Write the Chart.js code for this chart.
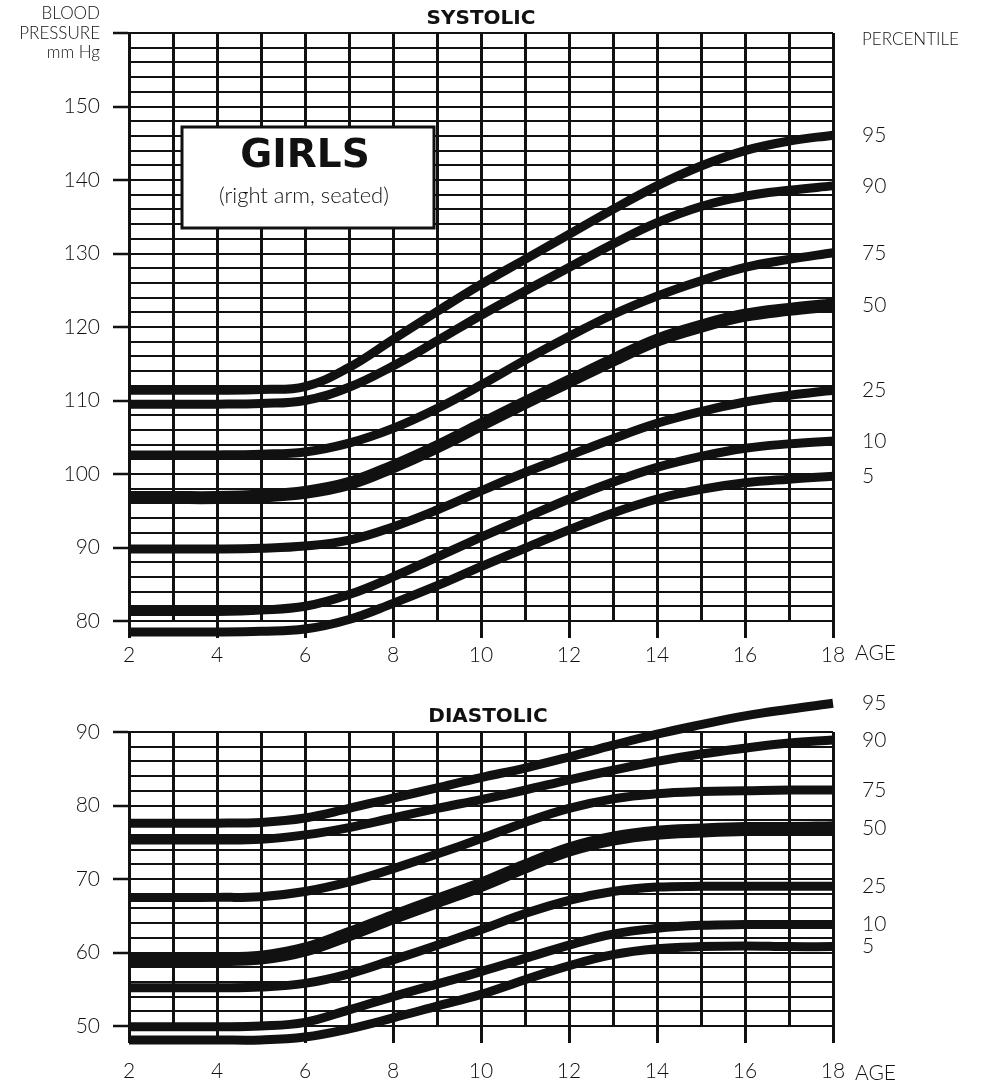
<!DOCTYPE html>
<html>
<head>
<meta charset="utf-8">
<script src="https://cdn.jsdelivr.net/npm/chart.js@4.4.1/dist/chart.umd.min.js"></script>
<style>
  body { margin: 0; background: #fff; }
  #wrap { position: relative; width: 988px; height: 1087px; }
  canvas { position: absolute; left: 0; }
  #sysCanvas { top: 0; }
  #diaCanvas { top: 680px; }
</style>
</head>
<body>
<div id="wrap">
  <canvas id="sysCanvas" width="988" height="680"></canvas>
  <canvas id="diaCanvas" width="988" height="407"></canvas>
</div>
<script>
const ages = [2, 3, 4, 5, 6, 7, 8, 9, 10, 11, 12, 13, 14, 15, 16, 17, 18];
const percentiles = ['95', '90', '75', '50', '25', '10', '5'];

// systolic, mm Hg
const sys95 = [111.4, 111.4, 111.4, 111.5, 111.9, 114.5, 118.3, 122.1, 125.8, 129.2, 132.6, 136.0, 139.2, 141.9, 144.0, 145.3, 146.1];
const sys90 = [109.5, 109.5, 109.5, 109.6, 110.0, 111.8, 114.7, 118.1, 121.6, 124.9, 128.1, 131.3, 134.2, 136.4, 137.8, 138.6, 139.2];
const sys75 = [102.6, 102.6, 102.6, 102.7, 103.0, 104.2, 106.2, 108.9, 112.1, 115.5, 118.7, 121.7, 124.2, 126.3, 128.1, 129.2, 130.1];
const sys50 = [96.8, 96.8, 96.8, 97.0, 97.5, 98.7, 101.0, 103.7, 106.7, 109.7, 112.6, 115.5, 118.2, 120.1, 121.6, 122.4, 123.0];
const sys25 = [89.8, 89.8, 89.8, 89.9, 90.2, 91.0, 92.8, 95.1, 97.7, 100.2, 102.5, 104.8, 106.9, 108.5, 109.8, 110.7, 111.4];
const sys10 = [81.3, 81.3, 81.3, 81.5, 82.0, 83.6, 86.0, 88.7, 91.4, 94.0, 96.6, 98.9, 100.9, 102.4, 103.5, 104.1, 104.5];
const sys5 = [78.5, 78.5, 78.5, 78.6, 78.9, 80.2, 82.4, 84.8, 87.4, 89.9, 92.4, 94.7, 96.6, 97.9, 98.8, 99.3, 99.7];

// diastolic, mm Hg
const dia95 = [77.6, 77.6, 77.6, 77.7, 78.3, 79.6, 81.0, 82.4, 83.8, 85.1, 86.6, 88.2, 89.7, 91.0, 92.2, 93.1, 93.9];
const dia90 = [75.3, 75.3, 75.3, 75.4, 76.0, 77.0, 78.3, 79.6, 80.8, 82.1, 83.5, 84.8, 86.0, 87.0, 87.8, 88.5, 88.9];
const dia75 = [67.5, 67.5, 67.5, 67.6, 68.3, 69.6, 71.4, 73.4, 75.5, 77.7, 79.6, 80.9, 81.6, 81.9, 82.0, 82.1, 82.1];
const dia50 = [59.1, 59.1, 59.1, 59.3, 60.4, 62.5, 64.8, 67.0, 69.2, 71.7, 74.0, 75.5, 76.3, 76.6, 76.8, 76.8, 76.9];
const dia25 = [55.2, 55.2, 55.2, 55.3, 55.8, 57.1, 59.0, 61.0, 63.1, 65.3, 67.1, 68.3, 68.9, 69.0, 69.0, 69.0, 69.0];
const dia10 = [49.9, 49.9, 49.9, 50.0, 50.5, 52.2, 54.0, 55.7, 57.4, 59.2, 61.0, 62.5, 63.3, 63.7, 63.8, 63.8, 63.8];
const dia5 = [48.1, 48.1, 48.1, 48.1, 48.5, 49.6, 51.1, 52.7, 54.3, 56.3, 58.2, 59.7, 60.5, 60.8, 60.9, 60.8, 60.8];

const LIGHT = 'Lato, "DejaVu Sans", sans-serif';
const BOLD = '"DejaVu Sans", Lato, sans-serif';
const INK = '#111';

Chart.defaults.font.family = LIGHT;
Chart.defaults.color = INK;

// titles, percentile labels, the GIRLS box
const decor = (o) => ({
  id: 'decor',
  beforeDatasetsDraw(chart) {
    if (!o.box) return;
    const ctx = chart.ctx;
    ctx.save();
    ctx.fillStyle = '#fff';
    ctx.fillRect(182, 127, 252, 101);
    ctx.lineWidth = 3;
    ctx.strokeStyle = INK;
    ctx.strokeRect(182, 127, 252, 101);
    ctx.fillStyle = INK;
    ctx.textAlign = 'center';
    ctx.textBaseline = 'middle';
    ctx.font = 'bold 39px ' + BOLD;
    ctx.fillText('GIRLS', 305, 157);
    ctx.font = '300 22px ' + LIGHT;
    ctx.fillText('(right arm, seated)', 304, 196);
    ctx.restore();
  },
  afterDraw(chart) {
    const { ctx, chartArea: a, scales: { y } } = chart;
    ctx.save();
    ctx.fillStyle = INK;
    ctx.textBaseline = 'middle';
    ctx.textAlign = 'center';
    ctx.font = 'bold 20px ' + BOLD;
    ctx.fillText(o.title, o.titleX, o.titleY);

    ctx.textAlign = 'left';
    ctx.font = '300 21px ' + LIGHT;
    ctx.fillText('AGE', a.right + 22, o.ageY);
    chart.data.datasets.forEach(ds => {
      const last = ds.data[ds.data.length - 1].y;
      ctx.fillText(ds.label, a.right + 29, y.getPixelForValue(last));
    });

    if (o.header) {
      ctx.font = '300 17px ' + LIGHT;
      ctx.fillText('PERCENTILE', a.right + 29, 40);
      ctx.textAlign = 'right';
      ctx.fillText('BLOOD', 100, 14);
      ctx.fillText('PRESSURE', 100, 34);
      ctx.fillText('mm Hg', 100, 53);
    }
    ctx.restore();
  }
});

const makeChart = (canvas, series, o) => {
  const datasets = series.map((vals, i) => ({
    label: percentiles[i],
    data: ages.map((a, j) => ({ x: a, y: vals[j] })),
    borderColor: INK,
    borderWidth: percentiles[i] === '50' ? o.thick : 9,
    pointRadius: 0,
    tension: 0.4,
    clip: false
  }));

  return new Chart(canvas, {
    type: 'line',
    data: { datasets },
    options: {
      responsive: false,
      animation: false,
      events: [],
      layout: { padding: { top: o.top, right: 155, left: 0, bottom: 0 } },
      plugins: { legend: { display: false }, tooltip: { enabled: false } },
      scales: {
        x: {
          type: 'linear',
          min: 2,
          max: 18,
          border: { display: false },
          grid: {
            color: INK,
            lineWidth: 3,
            tickLength: 17,
            tickWidth: 3,
            tickColor: c => (c.tick && c.tick.value % 2 === 0) ? INK : 'rgba(0,0,0,0)'
          },
          ticks: {
            stepSize: 1,
            autoSkip: false,
            maxRotation: 0,
            padding: o.xPad,
            font: { size: 21, weight: '300' },
            callback: v => v % 2 === 0 ? String(v) : ''
          },
          afterFit: s => { s.height = o.xHeight; }
        },
        y: {
          min: o.min,
          max: o.max,
          border: { display: true, color: INK, width: 3 },
          grid: {
            color: INK,
            lineWidth: 2,
            tickLength: 16,
            tickWidth: 2.5,
            tickColor: c => (c.tick && c.tick.value % 10 === 0) ? INK : 'rgba(0,0,0,0)'
          },
          ticks: {
            stepSize: 2,
            autoSkip: false,
            maxTicksLimit: 100,
            padding: 13,
            font: { size: 21, weight: '300' },
            callback: v => (v % 10 === 0 && v <= o.labelMax) ? String(v) : ''
          },
          afterFit: s => { s.width = 129; }
        }
      }
    },
    plugins: [decor(o)]
  });
};

makeChart(document.getElementById('sysCanvas'),
  [sys95, sys90, sys75, sys50, sys25, sys10, sys5],
  { min: 80, max: 160, labelMax: 150, top: 33, xHeight: 59, xPad: 5, thick: 13,
    title: 'SYSTOLIC', titleX: 481, titleY: 19, ageY: 653, header: true, box: true });

makeChart(document.getElementById('diaCanvas'),
  [dia95, dia90, dia75, dia50, dia25, dia10, dia5],
  { min: 50, max: 90, labelMax: 90, top: 52, xHeight: 61, xPad: 16, thick: 14,
    title: 'DIASTOLIC', titleX: 488, titleY: 37, ageY: 393, header: false, box: false });
</script>
</body>
</html>
